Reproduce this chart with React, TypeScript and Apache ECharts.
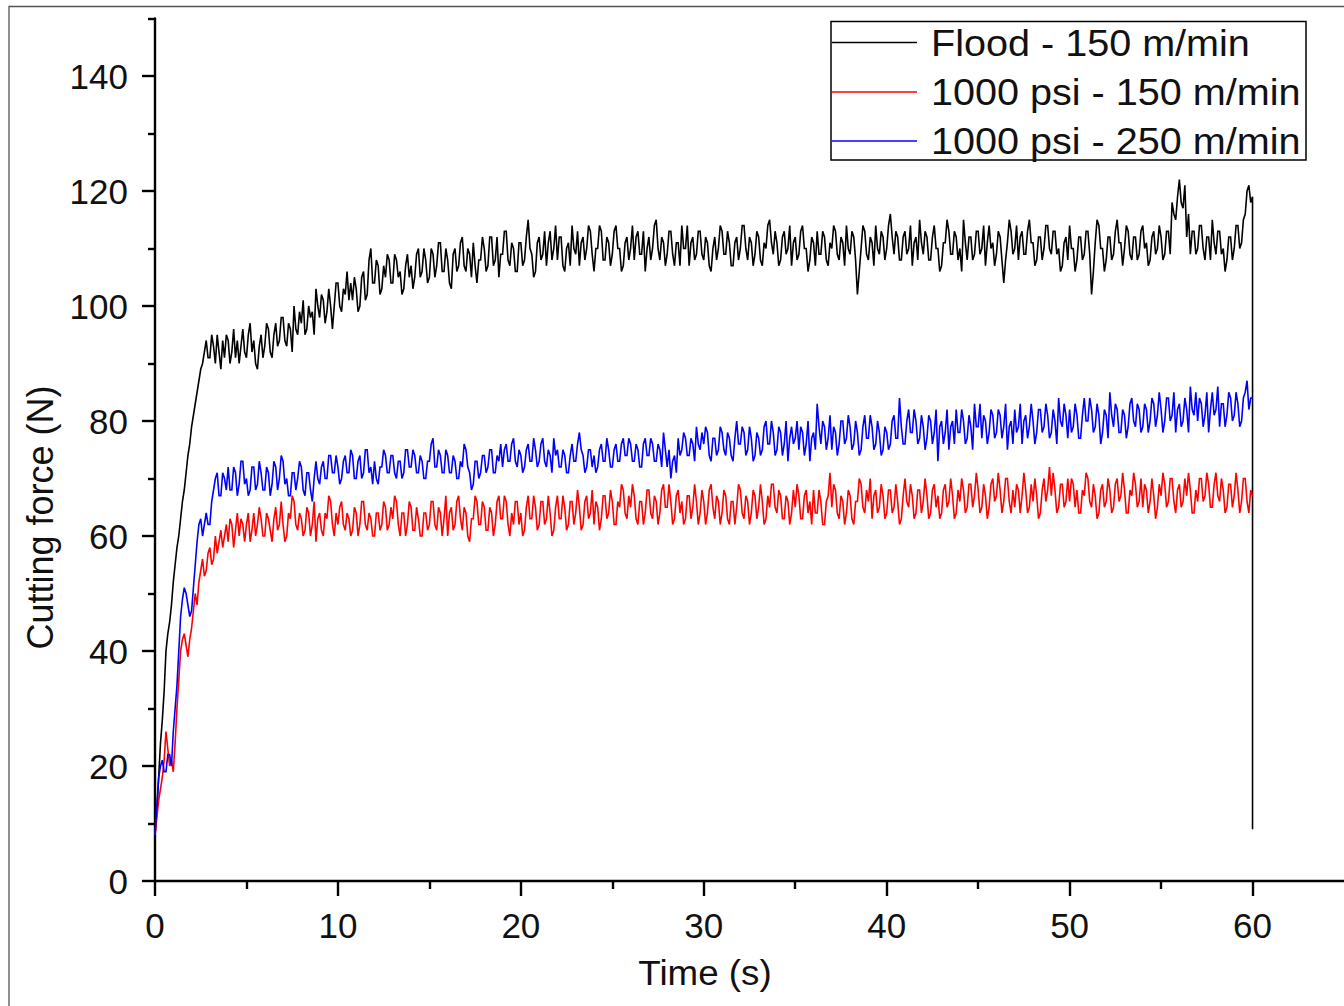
import React, { useEffect, useRef } from "react";
import * as echarts from "echarts";

// Sampling interval of the recorded force signals (s)
const SAMPLE_STEP = 0.1;

// Flood - 150 m/min (N), one value every 0.1 s from 0 to 60 s (one row = 1 s)
const floodForce = [
  8, 12, 18, 24, 28, 33, 40, 43, 45, 48,
  52, 55, 58, 60, 63, 66, 68, 71, 74, 76,
  79, 81, 83, 85, 87, 89, 90, 92, 94, 91,
  91, 95, 93, 90, 95, 92, 89, 94, 91, 95,
  94, 90, 92, 96, 91, 94, 90, 93, 96, 92,
  91, 95, 97, 92, 94, 90, 89, 93, 95, 91,
  93, 97, 96, 92, 91, 95, 97, 93, 94, 98,
  98, 94, 93, 97, 96, 92, 100, 96, 95, 99,
  97, 101, 95, 96, 100, 98, 99, 95, 103, 100,
  98, 102, 101, 97, 99, 103, 100, 96, 100, 104,
  104, 100, 99, 103, 102, 106, 101, 104, 101, 105,
  103, 99, 100, 105, 106, 101, 102, 108, 110, 104,
  104, 108, 107, 102, 103, 107, 105, 109, 108, 104,
  104, 109, 108, 105, 106, 102, 103, 107, 109, 105,
  107, 103, 105, 109, 110, 105, 106, 110, 108, 104,
  105, 110, 109, 105, 107, 111, 111, 106, 106, 110,
  108, 104, 103, 109, 110, 106, 107, 111, 112, 107,
  106, 110, 109, 105, 111, 107, 104, 108, 108, 112,
  110, 106, 107, 112, 112, 107, 108, 112, 105, 109,
  109, 113, 113, 108, 107, 111, 110, 106, 106, 111,
  111, 107, 108, 112, 115, 110, 109, 105, 106, 111,
  112, 108, 109, 113, 107, 111, 113, 108, 110, 114,
  108, 112, 112, 107, 106, 110, 111, 107, 114, 110,
  109, 113, 107, 111, 112, 108, 110, 114, 113, 109,
  106, 110, 110, 114, 113, 108, 108, 112, 111, 107,
  109, 113, 114, 110, 110, 106, 107, 111, 112, 108,
  110, 114, 108, 112, 113, 109, 109, 113, 106, 110,
  112, 108, 110, 114, 115, 110, 108, 112, 111, 107,
  109, 113, 113, 109, 107, 111, 111, 107, 114, 110,
  110, 114, 107, 111, 112, 108, 109, 113, 113, 109,
  108, 112, 111, 107, 106, 110, 112, 108, 110, 114,
  113, 109, 109, 113, 111, 107, 107, 111, 112, 108,
  110, 114, 114, 110, 108, 112, 111, 107, 109, 113,
  112, 108, 107, 111, 110, 114, 115, 111, 109, 113,
  111, 107, 108, 112, 113, 109, 110, 114, 107, 111,
  112, 108, 109, 113, 114, 110, 110, 106, 108, 112,
  111, 107, 113, 109, 109, 113, 112, 108, 107, 111,
  110, 114, 113, 109, 108, 112, 111, 107, 114, 110,
  109, 113, 112, 108, 102, 106, 110, 114, 113, 109,
  108, 112, 111, 107, 114, 110, 109, 113, 112, 108,
  110, 114, 116, 112, 109, 113, 112, 108, 108, 112,
  113, 109, 110, 114, 107, 111, 112, 108, 115, 111,
  109, 113, 112, 108, 108, 112, 114, 110, 110, 106,
  107, 111, 111, 115, 113, 109, 109, 113, 112, 108,
  110, 106, 115, 111, 108, 112, 112, 108, 109, 113,
  113, 109, 110, 114, 107, 111, 114, 110, 111, 107,
  109, 113, 112, 108, 104, 108, 111, 115, 113, 109,
  110, 114, 108, 112, 113, 109, 109, 113, 115, 111,
  111, 107, 108, 112, 112, 108, 110, 114, 114, 110,
  109, 113, 113, 109, 110, 106, 107, 111, 112, 108,
  114, 110, 110, 106, 108, 112, 112, 108, 109, 113,
  113, 109, 102, 106, 111, 115, 114, 110, 110, 106,
  108, 112, 112, 108, 109, 113, 115, 111, 111, 107,
  110, 114, 113, 109, 108, 112, 112, 108, 109, 113,
  114, 110, 111, 107, 108, 112, 113, 109, 110, 114,
  112, 108, 109, 113, 113, 109, 118, 116, 115, 119,
  122, 118, 117, 121, 112, 116, 109, 113, 113, 109,
  110, 114, 114, 110, 108, 112, 112, 108, 115, 111,
  109, 113, 113, 109, 110, 106, 108, 112, 112, 108,
  110, 114, 114, 110, 111, 115, 116, 120, 121, 118,
  119,
];
// Flood trace falls back at the end of the cut (t, N)
const floodEnd = [[60, 9]];

// 1000 psi - 150 m/min (N)
const psi150Force = [
  8, 11, 14, 16, 18, 21, 26, 23, 20, 21,
  19, 24, 30, 35, 40, 42, 43, 41, 39, 42,
  44, 47, 50, 48, 52, 54, 56, 53, 54, 57,
  58, 55, 56, 60, 57, 59, 61, 58, 60, 62,
  59, 63, 62, 58, 61, 64, 60, 63, 62, 59,
  62, 64, 59, 61, 64, 60, 62, 65, 63, 60,
  60, 64, 63, 61, 59, 63, 65, 61, 62, 66,
  62, 59, 60, 64, 63, 67, 66, 62, 61, 64,
  63, 60, 61, 65, 64, 60, 62, 66, 59, 63,
  64, 61, 60, 64, 63, 67, 66, 62, 60, 64,
  62, 65, 66, 62, 61, 64, 63, 60, 61, 65,
  64, 60, 62, 66, 66, 62, 61, 64, 63, 60,
  60, 64, 64, 61, 62, 66, 65, 61, 62, 65,
  63, 67, 66, 62, 60, 64, 64, 60, 62, 66,
  65, 61, 61, 65, 63, 60, 60, 64, 64, 61,
  62, 66, 66, 62, 61, 65, 64, 60, 63, 67,
  60, 64, 65, 61, 62, 66, 67, 63, 61, 65,
  64, 60, 59, 63, 63, 67, 66, 62, 62, 66,
  65, 61, 61, 65, 64, 60, 62, 66, 67, 63,
  63, 67, 66, 62, 60, 64, 62, 66, 66, 62,
  64, 60, 61, 65, 67, 63, 63, 67, 65, 61,
  62, 66, 66, 62, 63, 67, 64, 60, 61, 65,
  67, 63, 63, 67, 65, 61, 62, 66, 66, 62,
  64, 68, 65, 61, 62, 66, 67, 63, 64, 68,
  62, 66, 65, 61, 63, 67, 67, 63, 64, 68,
  66, 62, 62, 66, 65, 69, 68, 64, 63, 67,
  65, 69, 67, 63, 62, 66, 66, 62, 64, 68,
  68, 64, 63, 67, 66, 62, 64, 68, 69, 65,
  65, 69, 66, 62, 63, 67, 68, 64, 66, 62,
  63, 67, 67, 63, 65, 69, 66, 62, 64, 68,
  66, 62, 64, 68, 69, 65, 63, 67, 66, 62,
  64, 68, 67, 63, 62, 66, 66, 62, 65, 69,
  68, 64, 63, 67, 66, 62, 64, 68, 67, 63,
  65, 69, 66, 62, 63, 67, 65, 69, 69, 65,
  64, 68, 67, 63, 63, 67, 66, 62, 64, 68,
  65, 69, 67, 63, 63, 67, 68, 64, 66, 62,
  68, 64, 64, 68, 66, 62, 62, 66, 67, 71,
  65, 69, 68, 64, 63, 67, 66, 62, 64, 68,
  67, 63, 62, 66, 66, 70, 69, 65, 64, 68,
  66, 70, 63, 67, 68, 64, 65, 69, 67, 63,
  64, 68, 68, 64, 65, 69, 66, 62, 63, 67,
  70, 66, 65, 69, 67, 63, 64, 68, 68, 64,
  66, 70, 67, 63, 64, 68, 69, 65, 67, 63,
  64, 68, 69, 65, 66, 70, 67, 63, 64, 68,
  66, 70, 68, 64, 65, 69, 69, 65, 67, 71,
  68, 64, 65, 69, 67, 63, 65, 69, 70, 66,
  67, 71, 68, 64, 66, 70, 70, 66, 64, 68,
  65, 69, 68, 64, 67, 71, 68, 64, 65, 69,
  66, 70, 67, 63, 64, 68, 70, 66, 68, 72,
  67, 71, 68, 64, 65, 69, 69, 65, 66, 70,
  66, 70, 69, 65, 68, 64, 64, 68, 67, 71,
  70, 66, 65, 69, 67, 63, 64, 68, 69, 65,
  66, 70, 68, 64, 65, 69, 70, 66, 67, 71,
  68, 64, 64, 68, 67, 71, 69, 65, 66, 70,
  65, 69, 68, 64, 66, 70, 67, 63, 65, 69,
  67, 71, 69, 65, 66, 70, 70, 66, 64, 68,
  69, 65, 66, 70, 67, 71, 68, 64, 64, 68,
  66, 70, 70, 66, 67, 71, 69, 65, 65, 69,
  71, 67, 66, 70, 68, 64, 65, 69, 69, 65,
  67, 71, 68, 64, 66, 70, 70, 66, 64, 68,
  67,
];

// 1000 psi - 250 m/min (N)
const psi250Force = [
  8, 13, 18, 20, 21, 19, 19, 22, 22, 20,
  26, 30, 34, 40, 46, 49, 51, 50, 48, 46,
  47, 51, 55, 59, 62, 63, 60, 62, 64, 62,
  62, 66, 68, 70, 71, 67, 67, 71, 70, 68,
  72, 68, 68, 72, 71, 67, 69, 73, 73, 69,
  70, 67, 68, 72, 72, 68, 69, 73, 71, 68,
  68, 72, 71, 67, 69, 73, 72, 68, 70, 74,
  73, 69, 70, 67, 67, 71, 71, 68, 70, 73,
  72, 68, 67, 71, 71, 68, 66, 70, 73, 70,
  69, 72, 73, 70, 70, 74, 74, 71, 71, 74,
  72, 69, 70, 73, 74, 71, 71, 75, 74, 70,
  70, 73, 74, 70, 71, 75, 75, 71, 72, 69,
  73, 70, 69, 72, 72, 75, 74, 71, 71, 74,
  74, 71, 70, 73, 73, 70, 71, 75, 75, 72,
  72, 75, 74, 71, 71, 74, 73, 70, 70, 73,
  73, 76, 77, 72, 72, 75, 74, 71, 71, 75,
  74, 71, 71, 74, 73, 70, 70, 73, 72, 76,
  75, 72, 71, 68, 69, 73, 73, 70, 71, 74,
  74, 71, 72, 75, 75, 71, 71, 74, 73, 76,
  72, 75, 76, 73, 73, 76, 77, 73, 72, 75,
  74, 71, 72, 75, 76, 73, 73, 77, 75, 72,
  73, 76, 77, 73, 72, 75, 74, 71, 77, 74,
  75, 72, 72, 75, 74, 71, 71, 74, 76, 73,
  73, 76, 78, 75, 74, 71, 72, 75, 75, 72,
  74, 71, 72, 75, 76, 73, 73, 77, 75, 72,
  72, 75, 76, 73, 73, 76, 77, 74, 74, 77,
  76, 73, 73, 76, 75, 72, 72, 76, 77, 74,
  74, 77, 76, 73, 73, 76, 75, 72, 78, 75,
  72, 75, 70, 73, 74, 71, 77, 74, 75, 78,
  77, 74, 74, 77, 76, 73, 79, 76, 75, 78,
  76, 79, 78, 74, 73, 77, 77, 74, 75, 79,
  78, 75, 74, 78, 77, 74, 73, 77, 80, 76,
  76, 79, 78, 74, 75, 79, 77, 73, 74, 78,
  77, 74, 75, 79, 80, 76, 76, 80, 78, 74,
  75, 79, 78, 74, 76, 80, 73, 77, 79, 76,
  77, 80, 75, 79, 78, 74, 76, 80, 73, 77,
  78, 75, 83, 79, 76, 80, 79, 75, 77, 81,
  75, 79, 78, 74, 76, 80, 80, 76, 77, 81,
  79, 75, 76, 80, 78, 74, 75, 79, 81, 77,
  77, 81, 79, 75, 76, 80, 78, 74, 75, 79,
  78, 75, 76, 80, 81, 77, 77, 84, 79, 76,
  76, 80, 82, 78, 78, 82, 80, 76, 77, 81,
  79, 75, 77, 81, 80, 76, 78, 82, 73, 79,
  80, 76, 78, 82, 75, 79, 80, 76, 82, 78,
  78, 82, 80, 76, 77, 81, 79, 75, 83, 79,
  79, 83, 77, 81, 80, 76, 78, 82, 81, 77,
  78, 82, 81, 77, 79, 83, 75, 79, 80, 76,
  82, 78, 79, 83, 76, 80, 81, 77, 79, 83,
  80, 76, 78, 82, 82, 78, 79, 83, 81, 77,
  78, 82, 80, 76, 84, 80, 79, 83, 81, 77,
  82, 78, 79, 83, 81, 77, 77, 81, 84, 80,
  80, 84, 82, 78, 79, 83, 81, 76, 78, 82,
  81, 77, 85, 81, 79, 83, 82, 78, 78, 82,
  81, 77, 79, 83, 84, 80, 79, 83, 82, 78,
  79, 83, 82, 78, 80, 84, 83, 79, 81, 85,
  82, 78, 80, 84, 84, 80, 81, 85, 78, 82,
  83, 79, 80, 84, 82, 78, 86, 82, 81, 85,
  80, 84, 83, 79, 81, 85, 78, 82, 85, 81,
  82, 86, 79, 83, 83, 79, 81, 85, 84, 80,
  81, 85, 83, 79, 80, 84, 85, 87, 82, 84,
  84,
];

const seriesNames = ["Flood - 150 m/min", "1000 psi - 150 m/min", "1000 psi - 250 m/min"];
const seriesColors = ["#000000", "#ff0000", "#0000ff"];

const xMajorTicks = [0, 10, 20, 30, 40, 50, 60];
const xMinorTicks = [5, 15, 25, 35, 45, 55];
const yMajorTicks = [0, 20, 40, 60, 80, 100, 120, 140];
const yMinorTicks = [10, 30, 50, 70, 90, 110, 130, 150];
const X_MAX = 65;
const Y_MAX = 150;

const xTitle = "Time (s)";
const yTitle = "Cutting force (N)";

const FONT = "'Liberation Sans', Arial, Helvetica, sans-serif";

function toPairs(values: number[]): number[][] {
  return values.map((v, i) => [Math.round(i * SAMPLE_STEP * 10) / 10, v]);
}

export default function App() {
  const ref = useRef<HTMLDivElement>(null);

  useEffect(() => {
    if (!ref.current) return;
    const chart = echarts.init(ref.current, null, { renderer: "svg" });

    const axisLine = { show: true, onZero: false, lineStyle: { color: "#000", width: 2.4 } };
    const tickStyle = { color: "#000", width: 2.4 };
    const labelStyle = { fontSize: 35, color: "#111", fontFamily: FONT, margin: 27 };

    const legendRows = [42.5, 92, 141];
    const legendGraphics: any[] = [
      {
        type: "rect",
        z: 100,
        silent: true,
        shape: { x: 831, y: 21.5, width: 475, height: 138.5 },
        style: { fill: "#fff", stroke: "#000", lineWidth: 1.5 },
      },
    ];
    seriesNames.forEach((name, i) => {
      legendGraphics.push({
        type: "line",
        z: 101,
        silent: true,
        shape: { x1: 832, y1: legendRows[i], x2: 917, y2: legendRows[i] },
        style: { stroke: seriesColors[i], lineWidth: 1.6 },
      });
      legendGraphics.push({
        type: "text",
        z: 101,
        silent: true,
        x: 931,
        y: legendRows[i],
        scaleX: 1.07,
        style: {
          text: name,
          fontSize: 37,
          fontFamily: FONT,
          fill: "#111",
          align: "left",
          verticalAlign: "middle",
        },
      });
    });

    const lineWidth = 1.6;

    const option: any = {
      animation: false,
      backgroundColor: "#ffffff",
      grid: { left: 155, top: 18.5, width: 1191.7, height: 862.5, containLabel: false },
      xAxis: [
        {
          type: "value",
          min: 0,
          max: X_MAX,
          position: "bottom",
          axisLine,
          axisTick: { show: true, customValues: xMajorTicks, length: 15, inside: false, lineStyle: tickStyle },
          axisLabel: { ...labelStyle, customValues: xMajorTicks },
          splitLine: { show: false },
        },
        {
          type: "value",
          min: 0,
          max: X_MAX,
          position: "bottom",
          axisLine: { show: false, onZero: false },
          axisTick: { show: true, customValues: xMinorTicks, length: 8, inside: false, lineStyle: tickStyle },
          axisLabel: { show: false },
          splitLine: { show: false },
        },
      ],
      yAxis: [
        {
          type: "value",
          min: 0,
          max: Y_MAX,
          position: "left",
          axisLine,
          axisTick: { show: true, customValues: yMajorTicks, length: 13, inside: false, lineStyle: tickStyle },
          axisLabel: { ...labelStyle, customValues: yMajorTicks },
          splitLine: { show: false },
        },
        {
          type: "value",
          min: 0,
          max: Y_MAX,
          position: "left",
          axisLine: { show: false, onZero: false },
          axisTick: { show: true, customValues: yMinorTicks, length: 7, inside: false, lineStyle: tickStyle },
          axisLabel: { show: false },
          splitLine: { show: false },
        },
      ],
      series: [
        {
          name: seriesNames[0],
          type: "line",
          xAxisIndex: 0,
          yAxisIndex: 0,
          data: [...toPairs(floodForce), ...floodEnd],
          showSymbol: false,
          symbol: "none",
          lineStyle: { color: seriesColors[0], width: lineWidth, join: "miter" },
        },
        {
          name: seriesNames[1],
          type: "line",
          xAxisIndex: 0,
          yAxisIndex: 0,
          data: toPairs(psi150Force),
          showSymbol: false,
          symbol: "none",
          lineStyle: { color: seriesColors[1], width: lineWidth, join: "miter" },
        },
        {
          name: seriesNames[2],
          type: "line",
          xAxisIndex: 0,
          yAxisIndex: 0,
          data: toPairs(psi250Force),
          showSymbol: false,
          symbol: "none",
          lineStyle: { color: seriesColors[2], width: lineWidth, join: "miter" },
        },
      ],
      graphic: [
        {
          type: "rect",
          silent: true,
          z: -10,
          shape: { x: 9, y: 6.5, width: 2000, height: 2000 },
          style: { fill: "transparent", stroke: "#555", lineWidth: 1.3 },
        },
        {
          type: "text",
          silent: true,
          x: 705,
          y: 973,
          scaleX: 1.05,
          style: {
            text: xTitle,
            fontSize: 35,
            fontFamily: FONT,
            fill: "#111",
            align: "center",
            verticalAlign: "middle",
          },
        },
        {
          type: "text",
          silent: true,
          x: 40.5,
          y: 517.5,
          rotation: Math.PI / 2,
          style: {
            text: yTitle,
            fontSize: 36,
            fontFamily: FONT,
            fill: "#111",
            align: "center",
            verticalAlign: "middle",
          },
        },
        ...legendGraphics,
      ],
    };

    chart.setOption(option);
    return () => chart.dispose();
  }, []);

  return (
    <div
      ref={ref}
      style={{ position: "fixed", left: 0, top: 0, width: 1344, height: 1006, background: "#fff" }}
    />
  );
}
